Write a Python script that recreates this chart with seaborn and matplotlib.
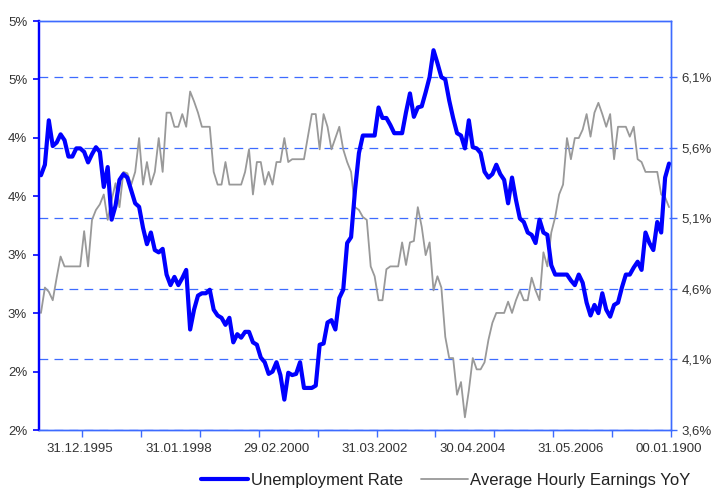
import numpy as np
import pandas as pd
import matplotlib
matplotlib.use("Agg")
import matplotlib.pyplot as plt
import seaborn as sns

# ---------------- data ----------------
unemployment = [
    4.18, 4.27, 4.65, 4.43, 4.46, 4.53, 4.48, 4.34, 4.34, 4.41,
    4.41, 4.38, 4.29, 4.36, 4.42, 4.38, 4.08, 4.25, 3.80, 3.92,
    4.14, 4.19, 4.16, 4.05, 3.94, 3.91, 3.73, 3.59, 3.69, 3.54,
    3.52, 3.55, 3.33, 3.24, 3.31, 3.24, 3.30, 3.37, 2.86, 3.03,
    3.15, 3.17, 3.17, 3.20, 3.03, 2.98, 2.96, 2.90, 2.96, 2.75,
    2.82, 2.79, 2.84, 2.84, 2.75, 2.73, 2.62, 2.58, 2.48, 2.50,
    2.58, 2.47, 2.26, 2.49, 2.47, 2.48, 2.58, 2.36, 2.36, 2.36,
    2.38, 2.73, 2.74, 2.92, 2.94, 2.86, 3.13, 3.20, 3.60, 3.65,
    4.05, 4.37, 4.52, 4.52, 4.52, 4.52, 4.76, 4.67, 4.67, 4.61,
    4.54, 4.54, 4.54, 4.72, 4.88, 4.68, 4.76, 4.77, 4.89, 5.02,
    5.25, 5.14, 5.02, 5.00, 4.82, 4.67, 4.54, 4.52, 4.41, 4.65,
    4.42, 4.41, 4.37, 4.21, 4.16, 4.19, 4.27, 4.19, 4.14, 3.94,
    4.16, 3.97, 3.81, 3.78, 3.69, 3.67, 3.60, 3.80, 3.69, 3.67,
    3.41, 3.33, 3.33, 3.33, 3.33, 3.28, 3.24, 3.33, 3.26, 3.09,
    2.98, 3.07, 3.00, 3.17, 3.03, 2.97, 3.07, 3.09, 3.22, 3.33,
    3.33, 3.39, 3.44, 3.37, 3.69, 3.60, 3.54, 3.78, 3.69, 4.16,
    4.28,
]
earnings = [
    4.43, 4.61, 4.58, 4.52, 4.68, 4.83, 4.76, 4.76, 4.76, 4.76,
    4.76, 5.01, 4.76, 5.09, 5.16, 5.20, 5.27, 5.09, 5.23, 5.35,
    5.18, 5.43, 5.42, 5.34, 5.43, 5.67, 5.34, 5.50, 5.34, 5.43,
    5.67, 5.43, 5.85, 5.85, 5.75, 5.75, 5.84, 5.75, 6.00, 5.93,
    5.85, 5.75, 5.75, 5.75, 5.43, 5.34, 5.34, 5.50, 5.34, 5.34,
    5.34, 5.34, 5.43, 5.59, 5.27, 5.50, 5.50, 5.34, 5.43, 5.34,
    5.50, 5.50, 5.67, 5.50, 5.52, 5.52, 5.52, 5.52, 5.68, 5.84,
    5.84, 5.59, 5.84, 5.75, 5.59, 5.67, 5.75, 5.59, 5.50, 5.43,
    5.18, 5.16, 5.11, 5.09, 4.76, 4.69, 4.52, 4.52, 4.74, 4.76,
    4.76, 4.76, 4.93, 4.77, 4.93, 4.94, 5.18, 5.04, 4.84, 4.93,
    4.59, 4.69, 4.61, 4.26, 4.11, 4.11, 3.85, 3.94, 3.69, 3.88,
    4.11, 4.03, 4.03, 4.08, 4.24, 4.36, 4.43, 4.43, 4.43, 4.51,
    4.43, 4.52, 4.59, 4.52, 4.52, 4.68, 4.59, 4.52, 4.86, 4.76,
    5.00, 5.11, 5.27, 5.34, 5.67, 5.52, 5.67, 5.67, 5.73, 5.84,
    5.68, 5.85, 5.92, 5.84, 5.75, 5.84, 5.52, 5.75, 5.75, 5.75,
    5.68, 5.75, 5.52, 5.50, 5.43, 5.43, 5.43, 5.43, 5.27, 5.25,
    5.18,
]
series_names = ["Unemployment Rate", "Average Hourly Earnings YoY"]
date_labels = ["31.12.1995", "31.01.1998", "29.02.2000", "31.03.2002",
               "30.04.2004", "31.05.2006", "00.01.1900"]
date_label_index = [10, 35, 60, 85, 110, 135, 160]
left_ticks = [2.0, 2.5, 3.0, 3.5, 4.0, 4.5, 5.0, 5.5]
left_labels = ["2%", "2%", "3%", "3%", "4%", "4%", "5%", "5%"]
right_ticks = [3.6, 4.1, 4.6, 5.1, 5.6, 6.1]
right_labels = ["3,6%", "4,1%", "4,6%", "5,1%", "5,6%", "6,1%"]

# ---------------- styling ----------------
sns.set_style("white")
plt.rcParams['font.family'] = ['Liberation Sans', 'DejaVu Sans']

TXT = "#333333"
AXBLUE = "#0000FF"
LIGHTBLUE = "#3D6BFF"

df = pd.DataFrame({
    "month": np.arange(len(unemployment)),
    "unemployment": unemployment,
    "earnings": earnings,
})

fig = plt.figure(figsize=(7.14, 4.90), dpi=100)
ax1 = fig.add_axes([39 / 714, 60 / 490, 632 / 714, 409 / 490])
ax2 = ax1.twinx()

sns.lineplot(data=df, x="month", y="earnings", ax=ax2, color="#999999",
             linewidth=1.3, legend=False)
sns.lineplot(data=df, x="month", y="unemployment", ax=ax1, color=AXBLUE,
             linewidth=3.0, legend=False, solid_joinstyle="round",
             solid_capstyle="round")

ax1.set_zorder(ax2.get_zorder() + 1)
ax1.patch.set_visible(False)

n = len(unemployment)
ax1.set_xlim(-0.5, n - 0.5)
ax1.set_ylim(2.0, 5.5)
ax2.set_ylim(3.6, 6.5)

# x axis: tick marks every 15 categories, labels every 25 categories
ax1.set_xticks(np.arange(10.5, n, 15))
ax1.set_xticklabels([])
ax1.set_xticks(date_label_index, minor=True)
ax1.set_xticklabels(date_labels, minor=True)
ax1.tick_params(axis="x", which="major", direction="out", length=5,
                width=1, color=LIGHTBLUE, bottom=True)
ax1.tick_params(axis="x", which="minor", length=0, pad=9,
                labelsize=9.5, labelcolor=TXT, bottom=True)

ax1.set_yticks(left_ticks)
ax1.set_yticklabels(left_labels)
ax1.tick_params(axis="y", direction="out", length=4.5, width=1.2,
                color=AXBLUE, pad=4, labelsize=9.5, labelcolor=TXT, left=True)

ax2.set_yticks(right_ticks)
ax2.set_yticklabels(right_labels)
ax2.tick_params(axis="y", direction="out", length=4.5, width=1,
                color=LIGHTBLUE, pad=3, labelsize=9.5, labelcolor=TXT, right=True)

ax1.set_xlabel("")
ax1.set_ylabel("")
ax2.set_ylabel("")

ax1.grid(False)
ax2.xaxis.grid(False)
ax2.yaxis.grid(True, color=LIGHTBLUE, linestyle=(0, (7, 5)), linewidth=0.9)

for ax in (ax1, ax2):
    for side, sp in ax.spines.items():
        sp.set_visible(True)
        sp.set_color(LIGHTBLUE)
        sp.set_linewidth(1.0)
    ax.spines["left"].set_color(AXBLUE)
    ax.spines["left"].set_linewidth(1.6)

handles = [ax1.lines[0], ax2.lines[0]]
fig.legend(handles, series_names, loc="center",
           bbox_to_anchor=(446 / 714, 1 - 480 / 490), ncol=2, frameon=False,
           fontsize=12, handlelength=2.8, handletextpad=0.15,
           columnspacing=1.1, labelcolor="#222222")

fig.savefig("out.png", dpi=100)
